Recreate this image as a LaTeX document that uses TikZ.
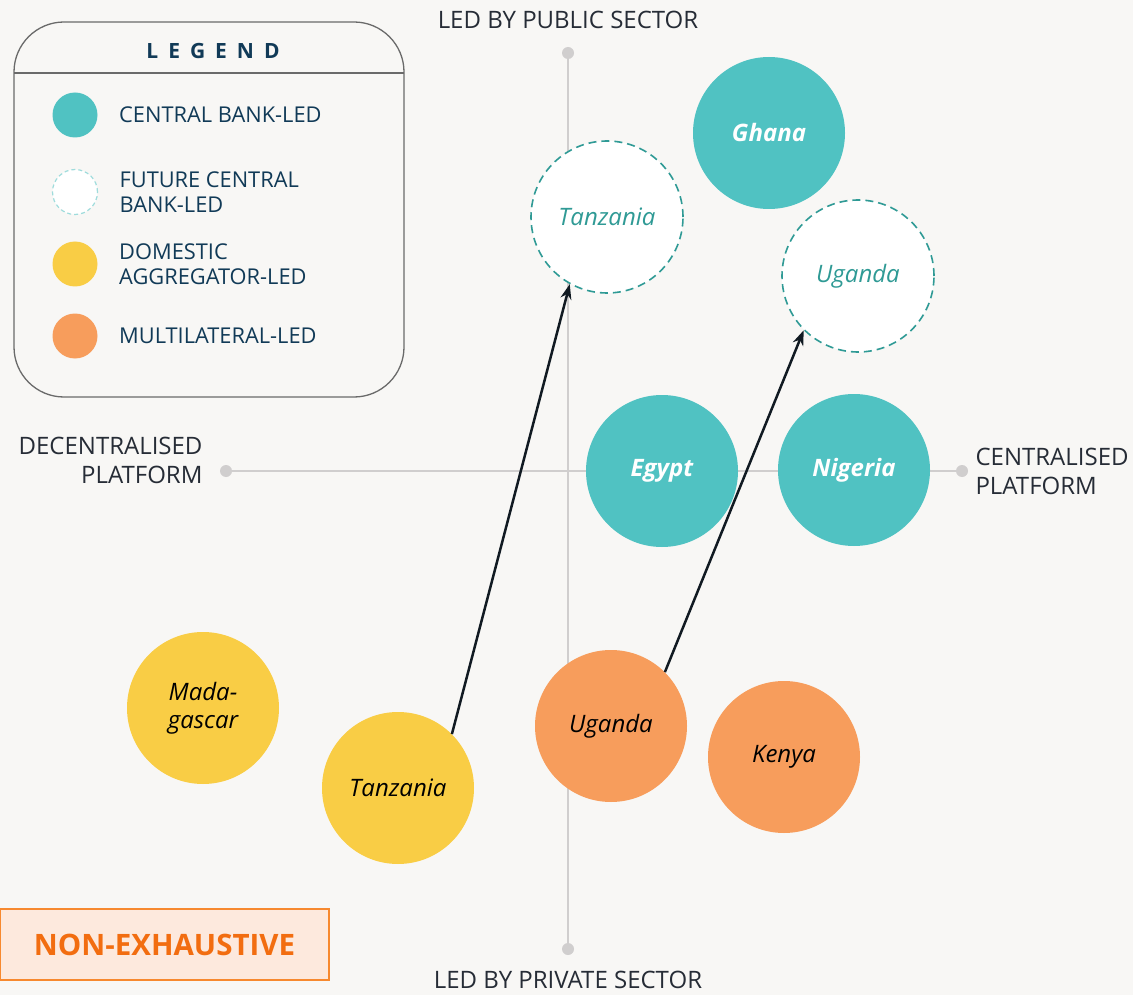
\documentclass[tikz,border=0pt]{standalone}
\usepackage{fontspec}
\setmainfont{Open Sans}
\usetikzlibrary{positioning,calc,arrows.meta}
\definecolor{bgcol}{HTML}{F8F7F5}
\definecolor{cbteal}{HTML}{50C2C2}
\definecolor{futteal}{HTML}{2F9A95}
\definecolor{lightteal}{HTML}{9FDCDC}
\definecolor{domyellow}{HTML}{F9CD45}
\definecolor{multorange}{HTML}{F79D5C}
\definecolor{axisgrey}{HTML}{D0CECE}
\definecolor{navy}{HTML}{113A57}
\definecolor{txtdark}{HTML}{262C36}
\definecolor{boxgrey}{HTML}{6A6A6A}
\definecolor{nefill}{HTML}{FDE9DD}
\definecolor{neline}{HTML}{F7892F}
\definecolor{netext}{HTML}{F26D10}
\definecolor{arrowcol}{HTML}{111A22}
\tikzset{
  >={Stealth[length=15pt,width=11pt]},
  country/.style={
    circle,
    minimum size=152pt,
    inner sep=0pt,
    align=center,
    font=\fontsize{24}{28}\selectfont\itshape
  },
  central/.style={country,fill=cbteal,text=white,font=\fontsize{24}{28}\selectfont\bfseries\itshape},
  future/.style={country,fill=white,draw=futteal,line width=1.6pt,dash pattern=on 8pt off 5pt,text=futteal},
  domestic/.style={country,fill=domyellow,text=black},
  multi/.style={country,fill=multorange,text=black},
  axis dot/.style={circle,fill=axisgrey,minimum size=12pt,inner sep=0pt},
  axis label/.style={text=txtdark,font=\fontsize{24}{29}\selectfont},
  leg dot/.style={circle,minimum size=45pt,inner sep=0pt},
  leg text/.style={right=18pt of #1,anchor=west,align=left,text=navy,font=\fontsize{21.8}{25}\selectfont},
  move/.style={->,draw=arrowcol,line width=2.5pt}
}
\newcommand{\spaced}[1]{\textbf{L\hspace{10pt}E\hspace{10pt}G\hspace{10pt}E\hspace{10pt}N\hspace{10pt}D}}

\begin{document}
\begin{tikzpicture}[x=1pt,y=-1pt]
\useasboundingbox[fill=bgcol] (0,0) rectangle (1133,995);
% axes
\node[axis dot] (top) at (568,53) {};
\node[axis dot] (bottom) at (568,949) {};
\node[axis dot] (left) at (226,471) {};
\node[axis dot] (right) at (962,471) {};
\draw[axisgrey,line width=2pt] (top) -- (bottom);
\draw[axisgrey,line width=2pt] (left) -- (right);
\node[axis label] (public) at (568,20) {LED BY PUBLIC SECTOR};
\node[axis label] (private) at (568,980) {LED BY PRIVATE SECTOR};
\node[axis label,anchor=east,align=right] (decentral) at (206,460) {DECENTRALISED\\PLATFORM};
\node[axis label,anchor=west,align=left] (central) at (972,471) {CENTRALISED\\PLATFORM};
% countries
\node[central] (ghana) at (769,133) {Ghana};
\node[future] (tzfut) at (607,217) {Tanzania};
\node[future] (ugfut) at (858,276) {Uganda};
\node[central] (egypt) at (662,471) {Egypt};
\node[central] (nigeria) at (854,470) {Nigeria};
\node[domestic] (madagascar) at (203,708) {Mada-\\gascar};
\node[domestic] (tanzania) at (398,788) {Tanzania};
\node[multi] (uganda) at (611,726) {Uganda};
\node[multi] (kenya) at (784,757) {Kenya};
\draw[move] (tanzania.45) -- (tzfut.241);
\draw[move] (uganda.45) -- (ugfut.225);
% legend
\draw[boxgrey,line width=1.3pt,rounded corners=50pt] (14,22) rectangle (404,397);
\draw[boxgrey,line width=1.3pt] (14,73) -- (404,73);
\node[text=navy,font=\fontsize{21}{25}\selectfont] (legend) at (213,51) {\spaced{}};
\node[leg dot,fill=cbteal] (d1) at (75,115) {};
\node[leg dot,fill=white,draw=lightteal,line width=1.2pt,dash pattern=on 4pt off 3pt] (d2) at (75,192) {};
\node[leg dot,fill=domyellow] (d3) at (75,264) {};
\node[leg dot,fill=multorange] (d4) at (75,336) {};
\node[leg text=d1] (t1) {CENTRAL BANK-LED};
\node[leg text=d2] (t2) {FUTURE CENTRAL\\BANK-LED};
\node[leg text=d3] (t3) {DOMESTIC\\AGGREGATOR-LED};
\node[leg text=d4] (t4) {MULTILATERAL-LED};
% note
\node[draw=neline,fill=nefill,line width=1.2pt,minimum width=329pt,minimum height=71pt,text=netext,font=\fontsize{29.5}{33}\selectfont\bfseries] (note) at (164.5,944.5) {NON-EXHAUSTIVE};
\end{tikzpicture}
\end{document}
